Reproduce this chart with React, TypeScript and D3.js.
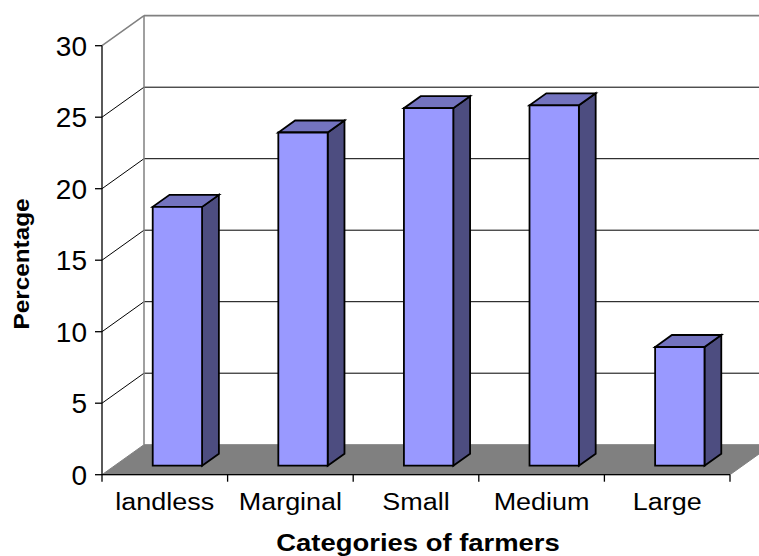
import React from "react";
import * as d3 from "d3";

// Share of farmers by landholding category (percent)
const categories = ["landless", "Marginal", "Small", "Medium", "Large"];
const percentages = [18.1, 23.3, 25.0, 25.2, 8.3];
const yTicks = [0, 5, 10, 15, 20, 25, 30];

const W = 759;
const H = 556;

// Front plane of the 3D box
const frontLeft = 102;
const frontRight = 730;
const frontBottom = 474.7;
const frontTop = 45.7;
// Offset from the front plane to the back wall
const depthX = 42;
const depthY = -30;
// Columns sit between these depth fractions
const barDepthStart = 0.3;
const barDepthEnd = 0.7;
const barWidthFrac = 0.393;

const FONT = "'Liberation Sans', Arial, Helvetica, sans-serif";

export default function App() {
  const x = d3
    .scaleBand<string>()
    .domain(categories)
    .range([frontLeft, frontRight])
    .paddingInner(0)
    .paddingOuter(0);
  const y = d3.scaleLinear().domain([0, 30]).range([frontBottom, frontTop]);

  const pts = (p: [number, number][]) =>
    "M" + p.map((q) => q[0].toFixed(2) + "," + q[1].toFixed(2)).join("L") + "Z";

  const bx = depthX;
  const by = depthY;

  // Walls
  const backWall = pts([
    [frontLeft + bx, y(30) + by],
    [frontRight + bx + 60, y(30) + by],
    [frontRight + bx + 60, y(0) + by],
    [frontLeft + bx, y(0) + by],
  ]);
  const sideWall = pts([
    [frontLeft, y(0)],
    [frontLeft + bx, y(0) + by],
    [frontLeft + bx, y(30) + by],
    [frontLeft, y(30)],
  ]);
  const floor = pts([
    [frontLeft, y(0)],
    [frontRight, y(0)],
    [frontRight + bx, y(0) + by],
    [frontLeft + bx, y(0) + by],
  ]);

  const gridVals = yTicks.filter((v) => v > 0 && v < 30);

  const f0x = bx * barDepthStart;
  const f0y = by * barDepthStart;
  const sdx = bx * (barDepthEnd - barDepthStart);
  const sdy = by * (barDepthEnd - barDepthStart);
  const bw = x.bandwidth() * barWidthFrac;

  return (
    <svg
      width={W}
      height={H}
      viewBox={`0 0 ${W} ${H}`}
      style={{ position: "absolute", left: 0, top: 0, display: "block", background: "#fff" }}
    >
      {/* walls */}
      <path d={backWall} fill="#fff" stroke="none" />
      <path d={sideWall} fill="#fff" stroke="none" />
      {gridVals.map((v) => (
        <g key={"g" + v}>
          <line
            x1={frontLeft}
            y1={y(v)}
            x2={frontLeft + bx}
            y2={y(v) + by}
            stroke="#000"
            strokeWidth={1}
          />
          <line
            x1={frontLeft + bx}
            y1={y(v) + by}
            x2={W + 5}
            y2={y(v) + by}
            stroke="#000"
            strokeWidth={1}
          />
        </g>
      ))}
      {/* wall outlines */}
      <line x1={frontLeft} y1={y(30)} x2={frontLeft + bx} y2={y(30) + by} stroke="#808080" strokeWidth={1.5} />
      <line x1={frontLeft + bx} y1={y(30) + by} x2={W + 5} y2={y(30) + by} stroke="#808080" strokeWidth={1.8} />
      <line x1={frontLeft + bx} y1={y(30) + by} x2={frontLeft + bx} y2={y(0) + by} stroke="#808080" strokeWidth={1.5} />

      {/* floor */}
      <path d={floor} fill="#808080" stroke="#808080" strokeWidth={1} />

      {/* columns */}
      {categories.map((c, i) => {
        const v = percentages[i];
        const cx = (x(c) as number) + x.bandwidth() / 2 + f0x;
        const xl = cx - bw / 2;
        const xr = cx + bw / 2;
        const yb = y(0) + f0y;
        const yt = y(v) + f0y;
        const front = pts([
          [xl, yt],
          [xr, yt],
          [xr, yb],
          [xl, yb],
        ]);
        const top = pts([
          [xl, yt],
          [xr, yt],
          [xr + sdx, yt + sdy],
          [xl + sdx, yt + sdy],
        ]);
        const side = pts([
          [xr, yt],
          [xr + sdx, yt + sdy],
          [xr + sdx, yb + sdy],
          [xr, yb],
        ]);
        return (
          <g key={c} stroke="#000" strokeWidth={1.8} strokeLinejoin="miter">
            <path d={side} fill="#4D4D80" />
            <path d={top} fill="#7373BF" />
            <path d={front} fill="#9999FF" />
          </g>
        );
      })}

      {/* value axis */}
      <line x1={frontLeft} y1={y(0)} x2={frontLeft} y2={y(30)} stroke="#000" strokeWidth={1.3} />
      {yTicks.map((v) => (
        <g key={"t" + v}>
          <line x1={frontLeft - 7} y1={y(v)} x2={frontLeft} y2={y(v)} stroke="#000" strokeWidth={1.3} />
          <text
            x={frontLeft - 15}
            y={y(v)}
            dy="0.36em"
            textAnchor="end"
            fontFamily={FONT}
            fontSize={28}
            fill="#000"
          >
            {v}
          </text>
        </g>
      ))}

      {/* category axis */}
      <line x1={frontLeft} y1={y(0)} x2={frontRight} y2={y(0)} stroke="#000" strokeWidth={1.3} />
      {categories.map((c) => (
        <line
          key={"ct" + c}
          x1={x(c) as number}
          y1={y(0)}
          x2={x(c) as number}
          y2={y(0) + 7}
          stroke="#000"
          strokeWidth={1.3}
        />
      ))}
      <line x1={frontRight} y1={y(0)} x2={frontRight} y2={y(0) + 7} stroke="#000" strokeWidth={1.3} />
      {categories.map((c) => (
        <text
          key={"cl" + c}
          transform={`translate(${(x(c) as number) + x.bandwidth() / 2},509.5) scale(1.1,1)`}
          textAnchor="middle"
          fontFamily={FONT}
          fontSize={24.5}
          fill="#000"
        >
          {c}
        </text>
      ))}

      {/* axis titles */}
      <text
        transform="translate(418,550.7) scale(1.12,1)"
        textAnchor="middle"
        fontFamily={FONT}
        fontWeight="bold"
        fontSize={24.5}
        fill="#000"
      >
        Categories of farmers
      </text>
      <text
        transform="translate(29,264) rotate(-90) scale(1.08,1)"
        textAnchor="middle"
        fontFamily={FONT}
        fontWeight="bold"
        fontSize={22.5}
        fill="#000"
      >
        Percentage
      </text>
    </svg>
  );
}
